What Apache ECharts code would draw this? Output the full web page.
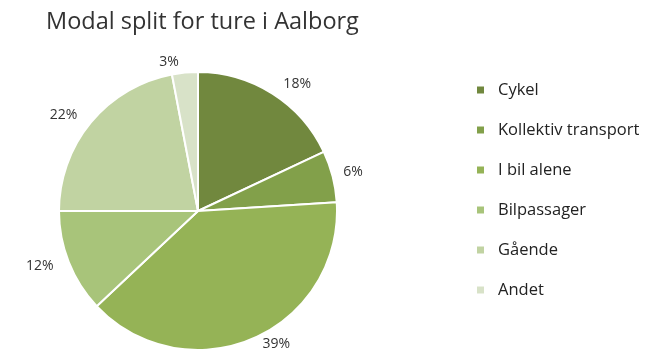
<!DOCTYPE html>
<html><head><meta charset="utf-8">
<script src="https://cdn.jsdelivr.net/npm/echarts@6/dist/echarts.min.js"></script>
<style>html,body{margin:0;padding:0;background:#fff}#c{width:655px;height:352px}</style>
</head><body><div id="c"></div>
<script>
const categories = ["Cykel","Kollektiv transport","I bil alene","Bilpassager","Gående","Andet"];
const values = [18, 6, 39, 12, 22, 3];
const colors = ["#71883e","#82a04a","#95b356","#a8c47a","#c1d3a2","#d8e2c8"];

const chart = echarts.init(document.getElementById('c'), null, {renderer:'canvas'});
chart.setOption({
  animation:false,
  title:{text:"Modal split for ture i Aalborg", left:41, top:5,
    textStyle:{fontFamily:"Open Sans", fontSize:23.5, fontWeight:'normal', color:'#333'}},
  legend:{orient:'vertical', left:470, top:75, itemGap:20, itemWidth:9, itemHeight:9, icon:'rect',
    textStyle:{fontFamily:"Open Sans", fontSize:16.5, lineHeight:20, color:'#222', padding:[0,0,0,8]},
    data:categories},
  series:[{
    type:'pie', center:[198,211], radius:139, startAngle:90, clockwise:true,
    color:colors,
    itemStyle:{borderColor:'#fff', borderWidth:2},
    label:{show:true, position:'outside', formatter:'{c}%', fontFamily:"Open Sans", fontSize:14, color:'#333'},
    labelLine:{show:false, length:11, length2:0},
    data:categories.map((n,i)=>({name:n, value:values[i]}))
  }]
});
</script></body></html>
